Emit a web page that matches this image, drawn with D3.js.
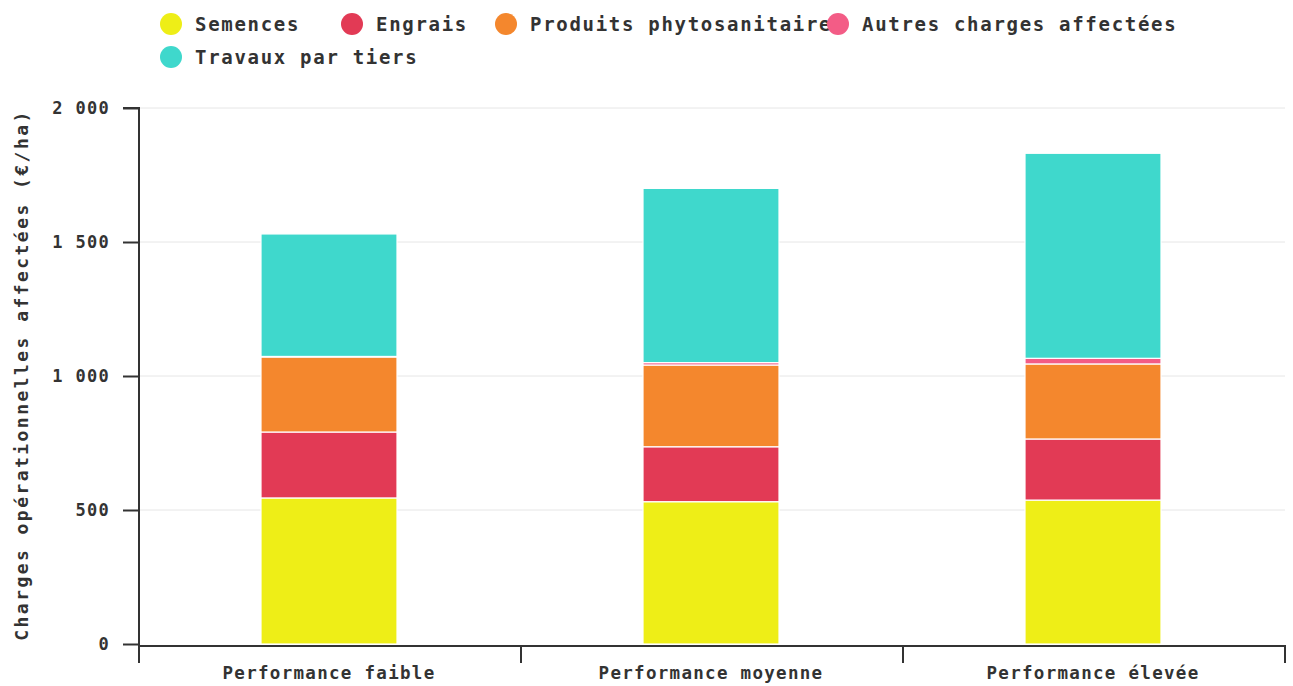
<!DOCTYPE html>
<html><head><meta charset="utf-8">
<script src="https://cdn.jsdelivr.net/npm/d3@7"></script>
<style>
body{margin:0;background:#fff;}
svg text{font-family:"DejaVu Sans Mono",monospace;fill:#333;}
</style></head>
<body><svg id="c" width="1293" height="686"></svg>
<script>
const categories = ["Performance faible","Performance moyenne","Performance élevée"];
const seriesNames = ["Semences","Engrais","Produits phytosanitaires","Autres charges affectées","Travaux par tiers"];
const semences = [545, 531, 537];
const engrais = [246, 205, 228];
const phyto = [280, 305, 280];
const autres = [2, 9, 21];
const travaux = [457, 650, 765];
const colors = ["#eeee17","#e23a55","#f4872d","#f35c86","#3fd8cc"];
const yTicks = [0,500,1000,1500,2000];
const yLabel = "Charges opérationnelles affectées (€/ha)";

const seriesValues = [semences, engrais, phyto, autres, travaux];
const table = categories.map((c,i)=>{const o={cat:c}; seriesNames.forEach((s,j)=>o[s]=seriesValues[j][i]); return o;});
const stacked = d3.stack().keys(seriesNames)(table);

const svg = d3.select("#c");
const m = {left:139, right:1285, top:108, bottom:644};
const x = d3.scaleBand().domain(categories).range([m.left, m.right]);
const y = d3.scaleLinear().domain([0,2000]).range([m.bottom, m.top]);
const fmt = v => d3.format(",")(v).replace(/,/g," ");

// grid
svg.append("g").selectAll("line").data(yTicks.filter(d=>d>0)).join("line")
  .attr("x1",m.left).attr("x2",m.right).attr("y1",d=>y(d)).attr("y2",d=>y(d))
  .attr("stroke","#e6e6e6").attr("stroke-width",1);

// bars
const bw = x.bandwidth()*0.356;
svg.append("g").selectAll("g").data(stacked).join("g")
  .attr("fill",(d,i)=>colors[i])
  .selectAll("rect").data(d=>d).join("rect")
  .attr("x",d=>x(d.data.cat)+x.bandwidth()/2-bw/2-1)
  .attr("width",bw)
  .attr("y",d=>y(d[1]))
  .attr("height",d=>Math.max(0,y(d[0])-y(d[1])))
  .attr("stroke","#fff").attr("stroke-width",1.2);

// y axis
const ya = svg.append("g").attr("transform",`translate(${m.left},0)`)
  .call(d3.axisLeft(y).tickValues(yTicks).tickFormat(fmt).tickSize(16).tickPadding(13));
ya.select(".domain").attr("stroke","#333").attr("stroke-width",2).attr("d",`M-16,${m.top}H0V${m.bottom+2}`);
ya.selectAll(".tick line").attr("stroke","#333").attr("stroke-width",2);
ya.selectAll(".tick text").attr("font-size",17).attr("font-weight","bold")
  .style("letter-spacing","1.3px").attr("fill","#333").attr("font-family","DejaVu Sans Mono");

// x axis
const xa = svg.append("g").attr("transform",`translate(0,${m.bottom+2})`);
xa.append("line").attr("x1",m.left).attr("x2",m.right).attr("stroke","#333").attr("stroke-width",2);
const bounds = categories.map(c=>x(c)).concat([m.right]);
xa.selectAll("line.t").data(bounds).join("line").attr("class","t")
  .attr("x1",d=>d).attr("x2",d=>d).attr("y1",-1).attr("y2",17).attr("stroke","#333").attr("stroke-width",2);
xa.selectAll("text").data(categories).join("text")
  .attr("x",d=>x(d)+x.bandwidth()/2-1).attr("y",33)
  .attr("text-anchor","middle").attr("font-size",17.5).attr("font-weight","bold")
  .style("letter-spacing","1.3px").text(d=>d);

// y label
svg.append("text").attr("transform",`translate(28,${(m.top+m.bottom)/2-1}) rotate(-90)`)
  .attr("text-anchor","middle").attr("font-size",18).attr("font-weight","bold")
  .style("letter-spacing","2.45px").text(yLabel);

// legend
const legendPos = [[171,24],[352,24],[506,24],[838,24],[171,57]];
const lg = svg.append("g").selectAll("g").data(seriesNames).join("g")
  .attr("transform",(d,i)=>`translate(${legendPos[i][0]},${legendPos[i][1]})`);
lg.append("text").attr("x",24).attr("y",7).attr("font-size",19).attr("font-weight","bold")
  .style("letter-spacing","1.7px").text(d=>d);
lg.append("circle").attr("r",11).attr("fill",(d,i)=>colors[i]);
</script></body></html>
